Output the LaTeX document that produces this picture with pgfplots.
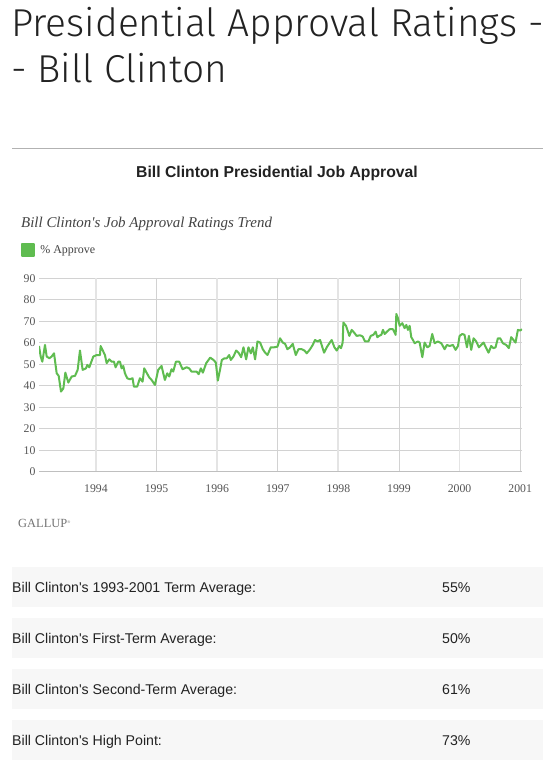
\documentclass[border=0pt]{standalone}
\usepackage{pgfplots}
\pgfplotsset{compat=1.18}
\usepackage{fontspec}
\setmainfont{Liberation Serif}
\newfontfamily\titlefont{Fira Sans Light}
\newfontfamily\sansfont{Liberation Sans}
\newfontfamily\seriffont{Liberation Serif}
\definecolor{cgreen}{RGB}{95,188,80}
\definecolor{gridc}{RGB}{210,210,210}
\definecolor{gridl}{RGB}{228,228,228}
\definecolor{rowc}{RGB}{247,247,247}
\definecolor{txt}{RGB}{34,34,34}
\definecolor{ticktxt}{RGB}{85,85,85}

\pgfplotstableread{
year val
1993.060 58.5
1993.088 53.6
1993.115 51.2
1993.159 59.0
1993.187 53.6
1993.231 52.8
1993.269 53.6
1993.308 55.1
1993.352 45.8
1993.385 44.6
1993.423 37.3
1993.462 38.8
1993.495 46.1
1993.544 41.5
1993.599 44.3
1993.654 44.6
1993.698 47.4
1993.736 56.4
1993.780 47.4
1993.835 48.1
1993.857 49.7
1993.890 48.6
1993.956 53.6
1994.011 54.3
1994.066 54.3
1994.077 58.5
1994.148 54.3
1994.176 50.5
1994.220 52.3
1994.258 51.2
1994.297 51.2
1994.324 48.6
1994.368 51.2
1994.396 51.2
1994.423 48.1
1994.451 49.2
1994.478 45.8
1994.516 43.5
1994.560 43.0
1994.604 43.5
1994.626 39.6
1994.681 39.6
1994.725 43.5
1994.769 41.9
1994.797 48.1
1994.835 46.1
1994.879 43.9
1994.918 42.7
1994.973 40.4
1995.027 47.4
1995.082 49.2
1995.137 42.7
1995.176 45.8
1995.209 44.3
1995.247 47.7
1995.275 46.6
1995.319 51.2
1995.374 51.2
1995.429 47.7
1995.495 48.6
1995.538 48.1
1995.577 46.6
1995.659 46.6
1995.695 45.4
1995.731 48.1
1995.764 46.1
1995.819 50.5
1995.885 53.1
1995.940 52.0
1995.978 50.8
1996.011 42.4
1996.049 47.7
1996.077 52.0
1996.121 52.8
1996.159 52.8
1996.198 54.3
1996.225 52.0
1996.269 53.6
1996.313 56.4
1996.352 55.4
1996.396 53.3
1996.434 57.9
1996.478 52.3
1996.516 57.9
1996.555 55.1
1996.588 57.9
1996.626 52.3
1996.665 60.6
1996.709 60.1
1996.753 57.0
1996.791 55.4
1996.830 54.3
1996.885 57.9
1996.940 57.9
1996.995 58.2
1997.038 62.1
1997.082 60.1
1997.121 59.5
1997.159 57.0
1997.203 57.9
1997.247 59.5
1997.297 54.3
1997.341 57.0
1997.396 57.0
1997.440 56.4
1997.478 55.1
1997.533 57.0
1997.577 59.0
1997.615 61.3
1997.659 60.6
1997.698 61.3
1997.764 55.4
1997.808 57.9
1997.852 59.8
1997.890 61.3
1997.934 57.9
1997.973 56.4
1998.016 58.5
1998.044 57.5
1998.071 60.1
1998.082 69.4
1998.126 67.9
1998.181 63.2
1998.220 66.0
1998.258 64.8
1998.302 63.2
1998.357 63.5
1998.401 62.9
1998.440 60.6
1998.495 60.6
1998.533 63.2
1998.577 63.7
1998.615 65.2
1998.643 62.6
1998.670 63.2
1998.709 63.7
1998.736 66.0
1998.764 64.1
1998.802 65.2
1998.846 66.3
1998.901 66.3
1998.945 63.7
1998.956 73.4
1998.984 71.4
1999.011 67.9
1999.055 69.1
1999.093 66.8
1999.121 68.3
1999.148 66.0
1999.176 67.9
1999.203 62.6
1999.231 61.3
1999.258 59.8
1999.313 60.6
1999.341 60.1
1999.385 53.3
1999.423 60.1
1999.467 57.9
1999.505 58.5
1999.549 64.1
1999.588 59.8
1999.643 60.6
1999.698 59.8
1999.753 57.0
1999.791 59.0
1999.835 58.5
1999.890 59.0
1999.934 56.7
1999.973 58.5
2000.000 63.2
2000.044 64.1
2000.082 63.7
2000.121 57.9
2000.154 63.2
2000.192 56.7
2000.231 62.1
2000.275 60.6
2000.319 57.9
2000.357 59.0
2000.396 60.1
2000.440 57.5
2000.478 55.4
2000.522 58.5
2000.560 57.5
2000.593 57.9
2000.632 62.1
2000.670 62.1
2000.714 59.8
2000.769 59.0
2000.813 57.5
2000.852 62.6
2000.890 61.3
2000.923 60.1
2000.962 66.0
2001.000 65.7
2001.030 66.3
}\approval

\begin{document}
\begin{tikzpicture}[x=1bp,y=1bp]
\path[use as bounding box, fill=white] (0,0) rectangle (555,-765);
% Title
\node[anchor=base west, inner sep=0, text=txt, font=\titlefont\fontsize{39}{45}\selectfont] at (11,-37) {Presidential Approval Ratings -};
\node[anchor=base west, inner sep=0, text=txt, font=\titlefont\fontsize{39}{45}\selectfont] at (11,-82) {- Bill Clinton};
\draw[color=black!30, line width=1bp] (12,-148) -- (543,-148);
\node[anchor=base, inner sep=0, font=\sansfont\bfseries\fontsize{15.8}{18}\selectfont, text=txt] at (277,-177) {Bill Clinton Presidential Job Approval};
\node[anchor=base west, inner sep=0, font=\seriffont\itshape\fontsize{15}{17}\selectfont, text=txt!85] at (21,-227) {Bill Clinton's Job Approval Ratings Trend};

\begin{axis}[
  at={(39bp,-471.7bp)}, anchor=south west,
  width=483bp, height=193.4bp, scale only axis,
  xmin=1993.06, xmax=2001.03, ymin=0, ymax=90,
  axis line style={draw=none},
  xtick={1995,1997,1999,2001},
  extra x ticks={1994,1996,1998,2000},
  extra x tick style={major grid style={draw=gridl, line width=1.8bp}},
  ytick={0,10,...,90},
  major tick length=0pt,
  grid=major,
  major grid style={draw=gridc, line width=0.8bp},
  /pgf/number format/assume math mode=true,
  /pgf/number format/1000 sep={},
  ticklabel style={font=\seriffont\fontsize{11.8}{13}\selectfont, text=ticktxt},
  xticklabel style={yshift=-9bp},
  legend style={at={(-0.037,1.146)}, anchor=west, draw=none, fill=none,
     font=\seriffont\fontsize{12}{14}\selectfont, text=txt!85, inner sep=0pt},
  legend cell align=left,
  legend image code/.code={\fill[cgreen] (0bp,-6bp) rectangle (12bp,6bp); \path (15bp,0bp);},
]
\addplot[color=cgreen, line width=2bp, line join=round, mark=none] table[x=year, y=val] {\approval};
\addlegendentry{\% Approve}
\draw[color=black!25, line width=1.6bp] (axis cs:1993.06,0) -- (axis cs:2001.03,0);
\end{axis}

\node[anchor=base west, inner sep=0, font=\seriffont\fontsize{12.5}{14}\selectfont, text=black!55] at (18,-527) {GALLUP\raisebox{0.6ex}{\fontsize{4}{4}\selectfont\textregistered}};

% table rows
\foreach \top/\lab/\val in {567/{Bill Clinton's 1993-2001 Term Average:}/55\%, 618/{Bill Clinton's First-Term Average:}/50\%, 669/{Bill Clinton's Second-Term Average:}/61\%, 720/{Bill Clinton's High Point:}/73\%}{
  \fill[rowc] (12,-\top) rectangle (543,-\top-40);
  \node[anchor=base west, inner sep=0, font=\sansfont\fontsize{14.2}{16}\selectfont, text=txt] at (12,-\top-25) {\lab};
  \node[anchor=base west, inner sep=0, font=\sansfont\fontsize{14.2}{16}\selectfont, text=txt] at (442,-\top-25) {\val};
}
\end{tikzpicture}
\end{document}
